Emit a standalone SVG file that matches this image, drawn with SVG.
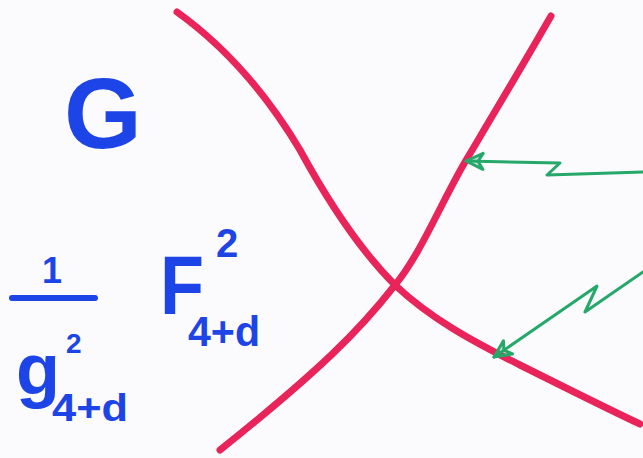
<svg xmlns="http://www.w3.org/2000/svg" width="643" height="458" viewBox="0 0 643 458">
<style>
.red{fill:none;stroke:#e8245a;stroke-width:7;stroke-linecap:round;stroke-linejoin:round}
.grn{fill:none;stroke:#25a86a;stroke-width:3;stroke-linecap:round;stroke-linejoin:round}
.t{font-family:"Liberation Sans",Arial,sans-serif;font-weight:bold;fill:#1d44e6}
</style>
<defs>
<marker id="ah" viewBox="0 0 24 24" refX="2" refY="12" markerWidth="24" markerHeight="24" markerUnits="userSpaceOnUse" orient="auto">
<path d="M2 12 L19 4 L14 12 L19 20 Z" fill="#25a86a" fill-opacity="0.25" stroke="#25a86a" stroke-width="3" stroke-linejoin="round"/>
</marker>
</defs>
<rect width="643" height="458" fill="#fbfafd"/>
<g id="curves">
<path class="red" d="M177 12 C230 50 270 100 300 150 C330 205 360 250 395 285 C430 318 470 340 520 365 C570 390 610 410 640 424"/>
<path class="red" d="M551 16 C520 70 490 120 465 162 C440 205 420 255 395 285 C360 330 320 370 220 450"/>
</g>
<g id="connectors">
<path class="grn" marker-start="url(#ah)" d="M466 161 L560 163 L547 175 L643 172"/>
<path class="grn" marker-start="url(#ah)" d="M494 357 L597 286 L585 312 L643 272"/>
</g>
<g id="labels">
<text class="t" x="64" y="148" font-size="100">G</text>
<text class="t" x="42" y="283" font-size="36">1</text>
<line x1="12" y1="298" x2="95" y2="298" stroke="#1d44e6" stroke-width="6" stroke-linecap="round"/>
<text class="t" x="16" y="394" font-size="72">g</text>
<text class="t" x="66" y="353" font-size="28">2</text>
<text class="t" x="52" y="421" font-size="38" textLength="76" lengthAdjust="spacingAndGlyphs">4+d</text>
<text class="t" x="160" y="314" font-size="84" textLength="44" lengthAdjust="spacingAndGlyphs">F</text>
<text class="t" x="216" y="257" font-size="40">2</text>
<text class="t" x="188" y="346" font-size="42" textLength="72" lengthAdjust="spacingAndGlyphs">4+d</text>
</g>
</svg>
